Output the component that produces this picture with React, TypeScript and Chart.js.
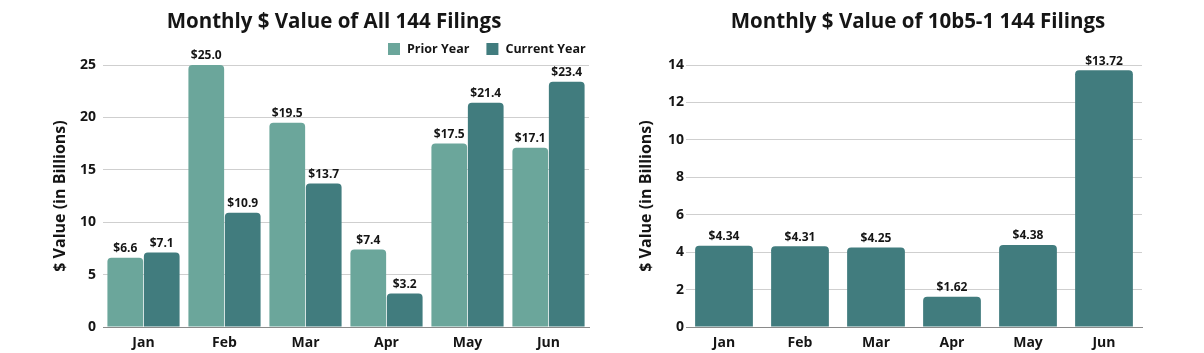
import React, { useEffect, useRef } from "react";
import { Chart, registerables } from "chart.js";

Chart.register(...registerables);

const FONT = "'Open Sans', 'Noto Sans', sans-serif";
const TEXT = "#151515";

// ---------- data ----------
const months = ["Jan", "Feb", "Mar", "Apr", "May", "Jun"];
const priorYear = [6.6, 25.0, 19.5, 7.4, 17.5, 17.1];
const currentYear = [7.1, 10.9, 13.7, 3.2, 21.4, 23.4];
const plan10b51 = [4.34, 4.31, 4.25, 1.62, 4.38, 13.72];
const leftTitle = "Monthly $ Value of All 144 Filings";
const rightTitle = "Monthly $ Value of 10b5-1 144 Filings";
const yAxisTitle = "$ Value (in Billions)";
const seriesNames = ["Prior Year", "Current Year"];

const PRIOR = "#6ba69b";
const CURRENT = "#417c7e";

// ---------- plugins ----------
const titlePlugin = {
  id: "sheetTitle",
  afterDraw(chart: any, _a: any, opts: any) {
    const ctx = chart.ctx;
    ctx.save();
    ctx.font = `bold ${opts.size}px ${FONT}`;
    ctx.fillStyle = TEXT;
    ctx.textAlign = "center";
    ctx.textBaseline = "middle";
    ctx.fillText(opts.text, opts.x, opts.y);
    ctx.restore();
  },
};

const legendPlugin = {
  id: "sheetLegend",
  afterDraw(chart: any, _a: any, opts: any) {
    if (!opts || !opts.show) return;
    const ctx = chart.ctx;
    ctx.save();
    ctx.font = `bold ${opts.size}px ${FONT}`;
    ctx.textBaseline = "middle";
    ctx.textAlign = "left";
    let x = opts.x;
    chart.data.datasets.forEach((ds: any) => {
      ctx.fillStyle = ds.backgroundColor;
      ctx.fillRect(x, opts.y - 6, 12, 12);
      x += 12 + opts.gap;
      ctx.fillStyle = TEXT;
      ctx.fillText(ds.label, x, opts.y);
      x += ctx.measureText(ds.label).width + opts.itemGap;
    });
    ctx.restore();
  },
};

const valueLabels = {
  id: "valueLabels",
  afterDatasetsDraw(chart: any, _a: any, opts: any) {
    const ctx = chart.ctx;
    ctx.save();
    ctx.font = `bold 12px ${FONT}`;
    ctx.fillStyle = TEXT;
    ctx.textAlign = "center";
    ctx.textBaseline = "bottom";
    chart.data.datasets.forEach((ds: any, i: number) => {
      const meta = chart.getDatasetMeta(i);
      meta.data.forEach((el: any, j: number) => {
        const v = ds.data[j] as number;
        ctx.fillText("$" + v.toFixed(opts.decimals), el.x, el.y - 3);
      });
    });
    ctx.restore();
  },
};

function makeScales(max: number, step: number, yWidth: number, titlePad: number, tickPad: number) {
  return {
    x: {
      grid: { display: false },
      border: { display: true, color: "#8a8a8a", width: 1 },
      ticks: { color: TEXT, font: { family: FONT, size: 14, weight: "bold" }, padding: 0 },
      afterFit: (s: any) => {
        s.height = 26;
      },
    },
    y: {
      min: 0,
      max,
      ticks: { stepSize: step, color: TEXT, font: { family: FONT, size: 14, weight: "bold" }, padding: tickPad },
      grid: { color: "#cfcfcf", drawTicks: false, lineWidth: 1 },
      border: { display: false },
      title: {
        display: true,
        text: yAxisTitle,
        color: TEXT,
        font: { family: FONT, size: 16, weight: "bold" },
        padding: { top: titlePad, bottom: 0 },
      },
      afterFit: (s: any) => {
        s.width = yWidth;
      },
    },
  };
}

function LeftChart() {
  const ref = useRef<HTMLCanvasElement>(null);
  useEffect(() => {
    const chart = new Chart(ref.current as HTMLCanvasElement, {
      type: "bar",
      data: {
        labels: months,
        datasets: [
          {
            label: seriesNames[0],
            data: priorYear,
            backgroundColor: PRIOR,
            borderRadius: 4,
            borderSkipped: "start",
            categoryPercentage: 0.9,
            barPercentage: 0.98,
          },
          {
            label: seriesNames[1],
            data: currentYear,
            backgroundColor: CURRENT,
            borderRadius: 4,
            borderSkipped: "start",
            categoryPercentage: 0.9,
            barPercentage: 0.98,
          },
        ],
      },
      options: {
        responsive: false,
        animation: false,
        layout: { padding: { left: 0, right: 11, top: 65, bottom: 0 } },
        scales: makeScales(25, 5, 103, 51, 7) as any,
        plugins: {
          legend: { display: false },
          title: { display: false },
          tooltip: { enabled: false },
          sheetTitle: { text: leftTitle, x: 334, y: 22, size: 20.5 },
          sheetLegend: { show: true, x: 388, y: 49, size: 12.5, gap: 7, itemGap: 17 },
          valueLabels: { decimals: 1 },
        } as any,
      },
      plugins: [titlePlugin, legendPlugin, valueLabels],
    });
    return () => chart.destroy();
  }, []);
  return <canvas ref={ref} width={600} height={353} style={{ position: "absolute", left: 0, top: 0 }} />;
}

function RightChart() {
  const ref = useRef<HTMLCanvasElement>(null);
  useEffect(() => {
    const chart = new Chart(ref.current as HTMLCanvasElement, {
      type: "bar",
      data: {
        labels: months,
        datasets: [
          {
            label: "10b5-1",
            data: plan10b51,
            backgroundColor: CURRENT,
            borderRadius: 4,
            borderSkipped: "start",
            categoryPercentage: 0.76,
            barPercentage: 1,
          },
        ],
      },
      options: {
        responsive: false,
        animation: false,
        layout: { padding: { left: 0, right: 62, top: 65, bottom: 0 } },
        scales: makeScales(14, 2, 86, 37, 2) as any,
        plugins: {
          legend: { display: false },
          title: { display: false },
          tooltip: { enabled: false },
          sheetTitle: { text: rightTitle, x: 318, y: 22, size: 20.5 },
          sheetLegend: { show: false },
          valueLabels: { decimals: 2 },
        } as any,
      },
      plugins: [titlePlugin, legendPlugin, valueLabels],
    });
    return () => chart.destroy();
  }, []);
  return <canvas ref={ref} width={604} height={353} style={{ position: "absolute", left: 600, top: 0 }} />;
}

export default function App() {
  return (
    <div style={{ position: "fixed", left: 0, top: 0, width: 1204, height: 353, background: "#fff" }}>
      <LeftChart />
      <RightChart />
    </div>
  );
}
